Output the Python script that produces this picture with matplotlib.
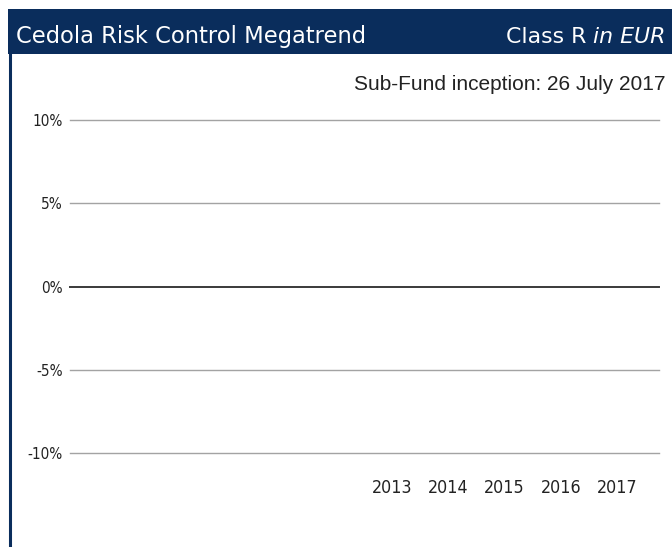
import numpy as np
import matplotlib
matplotlib.use("Agg")
import matplotlib.pyplot as plt
from matplotlib.patches import Rectangle
from matplotlib.lines import Line2D

# ---- data ----
years = ["2013", "2014", "2015", "2016", "2017"]
returns = [np.nan, np.nan, np.nan, np.nan, np.nan]   # no performance data yet
yticks = [-10, -5, 0, 5, 10]
ytick_labels = ["-10%", "-5%", "0%", "5%", "10%"]
title_left = "Cedola Risk Control Megatrend"
title_right_plain = "Class R"
title_right_italic = "in EUR"
subtitle = "Sub-Fund inception: 26 July 2017"

W, H = 672, 547
DPI = 100
NAVY = "#0a2d5c"
CFONT = dict(family="DejaVu Sans", stretch="condensed")
NFONT = dict(family="DejaVu Sans")

fig = plt.figure(figsize=(W / DPI, H / DPI), dpi=DPI)
fig.patch.set_facecolor("white")

def fx(px):
    return px / W

def fy(py):
    return 1 - py / H

# header band and left rule
fig.patches.append(Rectangle((fx(7.5), fy(54)), fx(W - 7.5), (54 - 9) / H,
                             transform=fig.transFigure, facecolor=NAVY,
                             edgecolor="none", zorder=0))
fig.lines.append(Line2D([fx(9.5), fx(9.5)], [fy(54), fy(H)], transform=fig.transFigure,
                        color=NAVY, linewidth=2.2))

ax = fig.add_axes([fx(70), fy(453), fx(659 - 70), (453 - 120) / H])
x = np.arange(len(years))
ax.bar(x, returns, width=0.6, color=NAVY)
ax.set_ylim(-10, 10)
ax.set_xlim(-(392 - 70) / 56.25, 4 + (659 - 617) / 56.25)
for v in yticks:
    if v == 0:
        ax.axhline(v, color="#3a3a3a", linewidth=1.4, zorder=1, clip_on=False)
    else:
        ax.axhline(v, color="#a3a3a3", linewidth=1.0, zorder=1, clip_on=False)
ax.set_yticks(yticks)
ax.set_yticklabels(ytick_labels, fontsize=11, color="#222222", **CFONT)
ax.set_xticks(x)
ax.set_xticklabels(years, fontsize=12.8, color="#222222", **CFONT)
ax.tick_params(axis="y", length=0, pad=5)
ax.tick_params(axis="x", length=0, pad=19)
for s in ax.spines.values():
    s.set_visible(False)

TS = 16.3
TS_R = 15.8
fig.text(fx(16), fy(43), title_left, color="white", fontsize=TS,
         ha="left", va="baseline", **NFONT)
t_it = fig.text(fx(665), fy(43), title_right_italic, color="white", fontsize=TS_R,
                ha="right", va="baseline", style="italic", **NFONT)
fig.canvas.draw()
bb = t_it.get_window_extent()
x0 = bb.x0 / W
fig.text(x0 - fx(6), fy(43), title_right_plain, color="white", fontsize=TS_R,
         ha="right", va="baseline", **NFONT)

fig.text(fx(665), fy(90), subtitle, color="#222222", fontsize=15,
         ha="right", va="baseline", family="Liberation Sans")

fig.savefig("out.png", dpi=DPI)
